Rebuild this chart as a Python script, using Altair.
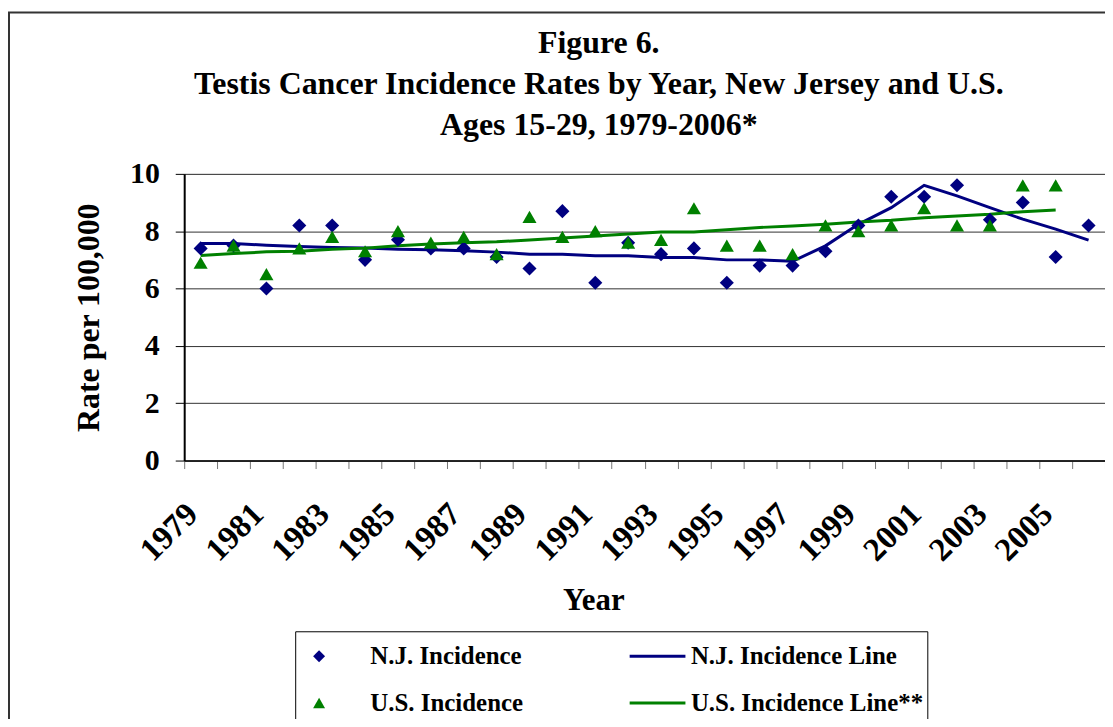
import altair as alt
import pandas as pd

years = [str(y) for y in range(1979, 2007)]

nj_rate = [7.4, 7.5, 6.0, 8.2, 8.2, 7.0, 7.7, 7.4, 7.4, 7.1, 6.7, 8.7, 6.2, 7.6,
           7.2, 7.4, 6.2, 6.8, 6.8, 7.3, 8.2, 9.2, 9.2, 9.6, 8.4, 9.0, 7.1, 8.2]
us_rate = [6.9, 7.5, 6.5, 7.4, 7.8, 7.3, 8.0, 7.6, 7.8, 7.2, 8.5, 7.8, 8.0, 7.6,
           7.7, 8.8, 7.5, 7.5, 7.2, 8.2, 8.0, 8.2, 8.8, 8.2, 8.2, 9.6, 9.6, None]
nj_fit = [7.57, 7.57, 7.51, 7.47, 7.43, 7.41, 7.37, 7.35, 7.32, 7.27, 7.2, 7.2, 7.14, 7.14,
          7.08, 7.08, 7.0, 7.0, 6.95, 7.49, 8.24, 8.82, 9.6, 9.23, 8.82, 8.42, 8.07, 7.69]
us_fit = [7.15, 7.22, 7.28, 7.3, 7.37, 7.41, 7.49, 7.55, 7.6, 7.63, 7.69, 7.76, 7.83, 7.9,
          7.97, 7.97, 8.05, 8.13, 8.18, 8.24, 8.32, 8.38, 8.47, 8.53, 8.59, 8.68, 8.74, None]

point_series = ["N.J. Incidence", "U.S. Incidence"]
line_series = ["N.J. Incidence Line", "U.S. Incidence Line**"]
series_colors = ["#000080", "#008000"]
point_shapes = ["diamond", "triangle-up"]
LINE_PATH = "M-4.67,0H4.67"

title_lines = ["Figure 6.",
               "Testis Cancer Incidence Rates by Year, New Jersey and U.S.",
               "Ages 15-29, 1979-2006*"]

rows_pts = []
rows_lines = []
for i, yr in enumerate(years):
    rows_pts.append({"year": yr, "rate": nj_rate[i], "series": point_series[0]})
    if us_rate[i] is not None:
        rows_pts.append({"year": yr, "rate": us_rate[i], "series": point_series[1]})
    rows_lines.append({"year": yr, "rate": nj_fit[i], "series": line_series[0]})
    if us_fit[i] is not None:
        rows_lines.append({"year": yr, "rate": us_fit[i], "series": line_series[1]})

pts = pd.DataFrame(rows_pts)
lines = pd.DataFrame(rows_lines)

FONT = "Liberation Serif"

x_enc = alt.X(
    "year:O",
    scale=alt.Scale(type="band", paddingInner=0, paddingOuter=0),
    axis=alt.Axis(
        title="Year",
        tickBand="extent",
        labelAngle=-45,
        labelExpr="(toNumber(datum.value) - 1979) % 2 == 0 ? datum.value : ''",
        labelOverlap=False,
        labelFont=FONT, labelFontSize=33, labelFontWeight="bold", labelColor="#000",
        labelPadding=29, labelOffset=-20,
        tickColor="#777", tickSize=8, tickWidth=1,
        domainColor="#000", domainWidth=1.5,
        titleFont=FONT, titleFontSize=31, titleFontWeight="bold", titleColor="#000",
        titleX=411, titleY=141, titleAlign="center", titleBaseline="middle",
    ),
)
y_enc = alt.Y(
    "rate:Q",
    scale=alt.Scale(domain=[0, 10], nice=False, zero=True),
    axis=alt.Axis(
        title="Rate per 100,000",
        values=[0, 2, 4, 6, 8, 10],
        grid=True, gridColor="#303030", gridWidth=1,
        tickColor="#000", tickSize=9, tickWidth=1,
        domainColor="#000", domainWidth=2,
        labelFont=FONT, labelFontSize=30, labelFontWeight="bold", labelColor="#000",
        labelPadding=16,
        titleFont=FONT, titleFontSize=32, titleFontWeight="bold", titleColor="#000",
        titleX=-96, titleY=144, titleAngle=-90, titleAlign="center", titleBaseline="middle",
    ),
)

legend_common = dict(
    title=None,
    orient="none",
    direction="vertical",
    rowPadding=21,
    padding=0,
    labelLimit=500,
    labelFont=FONT, labelFontSize=25, labelFontWeight="bold", labelColor="#000",
    symbolSize=144,
)

legend_pts = alt.Legend(legendX=123, legendY=472, labelOffset=39,
                        symbolStrokeWidth=0, **legend_common)
legend_lines = alt.Legend(legendX=445, legendY=472, labelOffset=21, symbolOffset=18,
                          symbolType=LINE_PATH, symbolStrokeWidth=3, **legend_common)

points = alt.Chart(pts).mark_point(filled=True, size=200, opacity=1, strokeWidth=0).encode(
    x=x_enc,
    y=y_enc,
    fill=alt.Fill("series:N", scale=alt.Scale(domain=point_series, range=series_colors),
                  legend=legend_pts),
    shape=alt.Shape("series:N", scale=alt.Scale(domain=point_series, range=point_shapes),
                    legend=legend_pts),
)

fit_lines = alt.Chart(lines).mark_line(strokeWidth=3).encode(
    x=x_enc,
    y=y_enc,
    color=alt.Color("series:N", scale=alt.Scale(domain=line_series, range=series_colors),
                    legend=legend_lines),
)

frame = alt.Chart(pd.DataFrame({"f": [0]})).mark_rect(
    fill=None, filled=False, stroke="#333", strokeWidth=2
).encode(
    x=alt.value(-176), x2=alt.value(1000), y=alt.value(-162), y2=alt.value(700)
)

legend_box = alt.Chart(pd.DataFrame({"f": [0]})).mark_rect(
    fill="#fff", stroke="#000", strokeWidth=1
).encode(
    x=alt.value(112), x2=alt.value(747), y=alt.value(460), y2=alt.value(700)
)

chart = alt.layer(frame, legend_box, fit_lines, points).properties(
    width=925,
    height=288,
    autosize=alt.AutoSizeParams(type="none"),
    padding={"left": 177, "top": 165, "right": 0, "bottom": 258},
    title=alt.TitleParams(
        text=title_lines,
        font=FONT, fontSize=32, fontWeight="bold", color="#000",
        lineHeight=41, anchor="middle", frame="group", dx=-46, dy=151, offset=20,
    ),
).resolve_scale(color="independent").configure_view(
    stroke="#000", strokeWidth=1.5
).configure(background="#ffffff")

chart.save("out.html", embed_options={"renderer": "svg", "actions": False})
